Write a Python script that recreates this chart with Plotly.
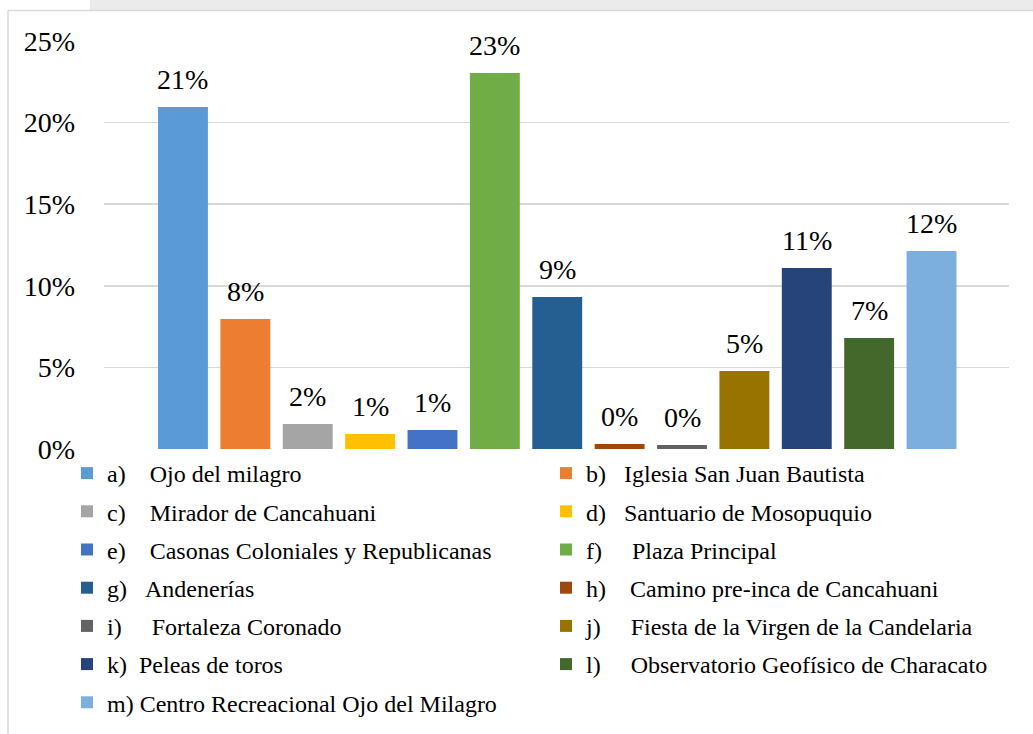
import plotly.graph_objects as go

# Attractions and the share of respondents choosing each one
letters = ["a)", "b)", "c)", "d)", "e)", "f)", "g)", "h)", "i)", "j)", "k)", "l)", "m)"]
names = [
    "Ojo del milagro",
    "Iglesia San Juan Bautista",
    "Mirador de Cancahuani",
    "Santuario de Mosopuquio",
    "Casonas Coloniales y Republicanas",
    "Plaza Principal",
    "Andenerías",
    "Camino pre-inca de Cancahuani",
    "Fortaleza Coronado",
    "Fiesta de la Virgen de la Candelaria",
    "Peleas de toros",
    "Observatorio Geofísico de Characato",
    "Centro Recreacional Ojo del Milagro",
]
shares = [0.2096, 0.0797, 0.0153, 0.0092, 0.0116, 0.2304, 0.0931,
          0.0031, 0.0025, 0.0478, 0.1109, 0.0680, 0.1213]
y_ticks = [0, 0.05, 0.10, 0.15, 0.20, 0.25]

colors = ["#5B9BD5", "#ED7D31", "#A5A5A5", "#FFC000", "#4472C4", "#70AD47",
          "#255E91", "#9E480E", "#636363", "#997300", "#264478", "#43682B",
          "#7CAFDD"]
# tab-like gap between the letter and the name in the legend
gaps = [4, 3, 4, 3, 4, 5, 3, 4, 5, 5, 2, 5, 1]

SERIF = "Liberation Serif"
W, H = 1033, 734
ML, MR, MT, MB = 104, 24, 41, 285

fig = go.Figure()
for i, (let, name, v) in enumerate(zip(letters, names, shares)):
    label = let + "\u00a0" * gaps[i] + name
    fig.add_trace(go.Bar(
        x=[let], y=[v], width=0.8, name=label,
        marker=dict(color=colors[i], line=dict(width=0)),
        legend="legend" if i % 2 == 0 else "legend2",
        legendgroup=let,
        hoverinfo="skip",
    ))
    fig.add_annotation(
        x=let, y=v, text=f"{v:.0%}", showarrow=False,
        yanchor="bottom", yshift=10,
        font=dict(family=SERIF, size=28, color="#000000"),
    )

legend_common = dict(
    orientation="v", xref="container", yref="container",
    yanchor="top", xanchor="left", tracegroupgap=4,
    bgcolor="rgba(0,0,0,0)", borderwidth=0,
    font=dict(family=SERIF, size=24, color="#000000"),
    traceorder="grouped", itemclick=False, itemdoubleclick=False,
)
fig.update_layout(
    width=W, height=H,
    margin=dict(l=ML, r=MR, t=MT, b=MB, autoexpand=False),
    paper_bgcolor="#ffffff", plot_bgcolor="#ffffff",
    font=dict(family=SERIF, color="#000000"),
    barmode="overlay",
    showlegend=True,
    legend=dict(legend_common, x=67 / W, y=1 - 451 / H),
    legend2=dict(legend_common, x=546 / W, y=1 - 451 / H),
    xaxis=dict(
        type="category", categoryorder="array", categoryarray=letters,
        range=[-1.266, 13.242], showticklabels=False, showgrid=False,
        zeroline=False, ticks="", showline=False, fixedrange=True,
    ),
    yaxis=dict(
        range=[0, 0.25], tickvals=y_ticks, tickformat=".0%",
        showgrid=True, gridcolor="#d9d9d9", gridwidth=1.5,
        zeroline=False, showline=False, ticks="", ticklabelstandoff=28,
        tickfont=dict(family=SERIF, size=28, color="#000000"),
        automargin=False, fixedrange=True,
    ),
)


# chart frame, placed in page pixels via the paper coordinates
def px_x(v):
    return (v - ML) / (W - ML - MR)


def px_y(v):
    return (H - MB - v) / (H - MT - MB)


fig.add_shape(type="rect", xref="paper", yref="paper",
              x0=px_x(90), x1=px_x(W + 2), y0=px_y(-2), y1=px_y(10),
              fillcolor="#ebebe9", line=dict(width=0), layer="below")
fig.add_shape(type="line", xref="paper", yref="paper",
              x0=px_x(8), x1=px_x(W + 2), y0=px_y(10.5), y1=px_y(10.5),
              line=dict(color="#d9d9d9", width=1.5), layer="below")
fig.add_shape(type="line", xref="paper", yref="paper",
              x0=px_x(8), x1=px_x(8), y0=px_y(10.5), y1=px_y(H + 2),
              line=dict(color="#d9d9d9", width=1.5), layer="below")

fig.write_html("out.html", include_plotlyjs=True,
               config=dict(displayModeBar=False, staticPlot=True))
